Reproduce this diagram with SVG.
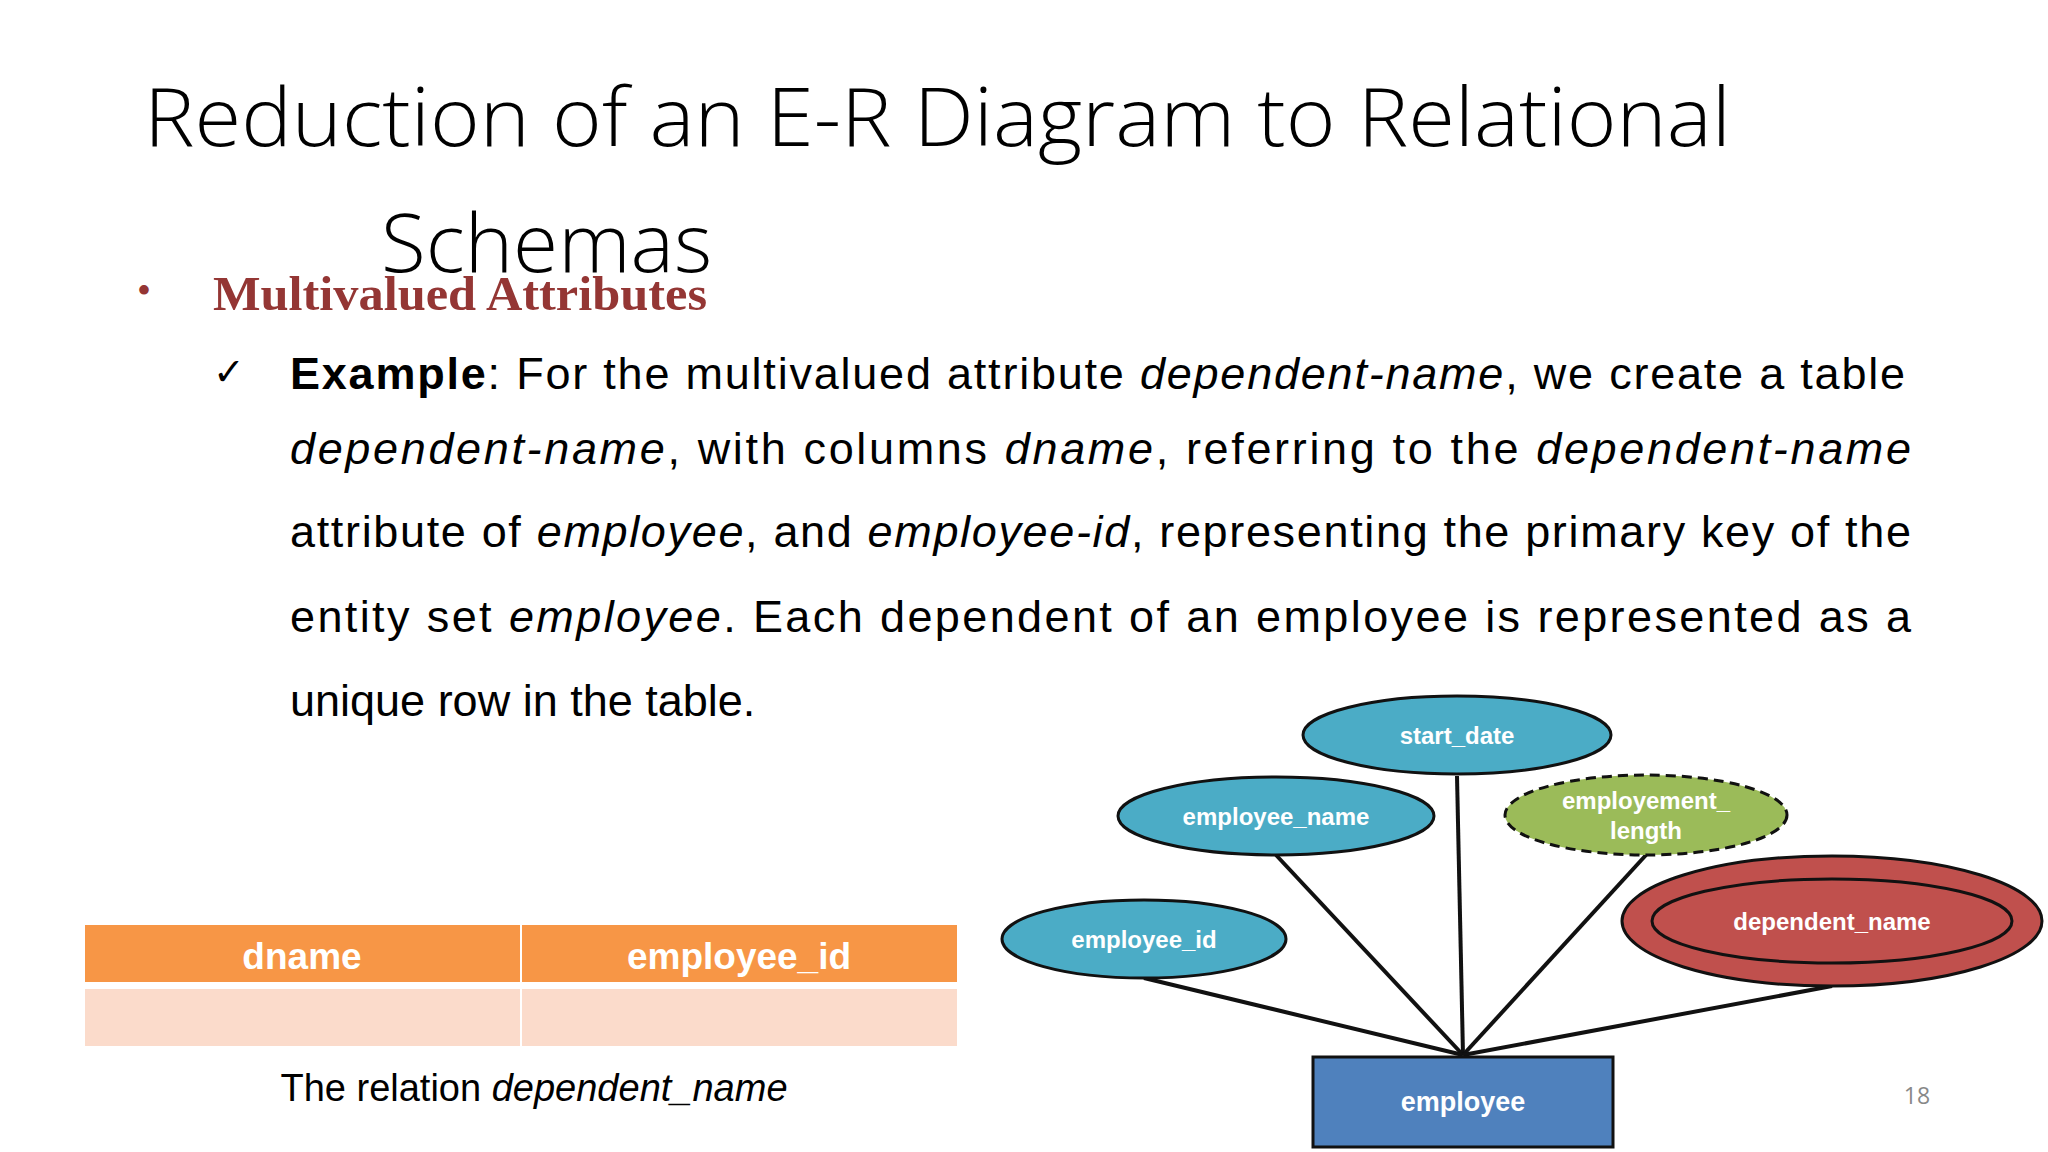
<svg xmlns="http://www.w3.org/2000/svg" width="2048" height="1152" viewBox="0 0 2048 1152">
<style>
.t{font-family:"Open Sans","Liberation Sans",sans-serif;font-weight:300;font-size:82px;fill:#000}
.p{font-family:"Liberation Sans",Arial,sans-serif;font-size:45px;fill:#000}
.i{font-style:italic}
.e{stroke:#111;stroke-width:3}
.l{font-family:"Liberation Sans",Arial,sans-serif;font-weight:bold;font-size:24px;fill:#fff;text-anchor:middle}
.h{font-family:"Liberation Sans",Arial,sans-serif;font-weight:bold;font-size:37px;fill:#fff;text-anchor:middle}
</style>
<rect width="2048" height="1152" fill="#fff"/>
<text class="t" x="144" y="146" textLength="1587" lengthAdjust="spacingAndGlyphs">Reduction of an E-R Diagram to  Relational</text>
<text class="t" x="381" y="272">Schemas</text>
<text x="137" y="304" font-family="Liberation Serif,serif" font-size="40" fill="#943634">•</text>
<text x="213" y="310" font-family="Liberation Serif,serif" font-weight="bold" font-size="49" fill="#943634" textLength="494" lengthAdjust="spacingAndGlyphs">Multivalued Attributes</text>
<text x="213" y="385" font-family="DejaVu Sans,sans-serif" font-size="38">✓</text>
<text class="p" x="290" y="389" textLength="1615" lengthAdjust="spacing"><tspan font-weight="bold">Example</tspan>: For the multivalued attribute <tspan class="i">dependent-name</tspan>, we create a table</text>
<text class="p" x="290" y="464" textLength="1621" lengthAdjust="spacing"><tspan class="i">dependent-name</tspan>, with columns <tspan class="i">dname</tspan>, referring to the <tspan class="i">dependent-name</tspan></text>
<text class="p" x="290" y="547" textLength="1621" lengthAdjust="spacing">attribute of <tspan class="i">employee</tspan>, and <tspan class="i">employee-id</tspan>, representing the primary key of the</text>
<text class="p" x="290" y="632" textLength="1621" lengthAdjust="spacing">entity set <tspan class="i">employee</tspan>. Each dependent of an employee is represented as a</text>
<text class="p" x="290" y="716">unique row in the table.</text>
<g id="table">
<rect x="85" y="925" width="435" height="57" fill="#F79646"/>
<rect x="522" y="925" width="435" height="57" fill="#F79646"/>
<rect x="85" y="989" width="435" height="57" fill="#FBDBCB"/>
<rect x="522" y="989" width="435" height="57" fill="#FBDBCB"/>
<text class="h" x="302" y="969">dname</text>
<text class="h" x="739" y="969">employee_id</text>
</g>
<text class="p" x="534" y="1101" text-anchor="middle" style="font-size:38px">The relation <tspan class="i">dependent_name</tspan></text>
<g id="connectors" stroke="#111" stroke-width="4">
<line x1="1457" y1="776" x2="1463" y2="1055"/>
<line x1="1276" y1="855" x2="1463" y2="1055"/>
<line x1="1646" y1="855" x2="1463" y2="1055"/>
<line x1="1144" y1="978" x2="1463" y2="1055"/>
<line x1="1832" y1="986" x2="1463" y2="1055"/>
</g>
<g id="start_date"><ellipse class="e" cx="1457" cy="735" rx="154" ry="39" fill="#4BACC6"/><text class="l" x="1457" y="744">start_date</text></g>
<g id="employee_name"><ellipse class="e" cx="1276" cy="816" rx="158" ry="39" fill="#4BACC6"/><text class="l" x="1276" y="825">employee_name</text></g>
<g id="employement_length"><ellipse class="e" cx="1646" cy="815" rx="141" ry="40" fill="#9BBB59" stroke-dasharray="10,6"/><text class="l" x="1646" y="809">employement_</text><text class="l" x="1646" y="839">length</text></g>
<g id="employee_id"><ellipse class="e" cx="1144" cy="939" rx="142" ry="39" fill="#4BACC6"/><text class="l" x="1144" y="948">employee_id</text></g>
<g id="dependent_name"><ellipse class="e" cx="1832" cy="921" rx="210" ry="65" fill="#C0504D"/><ellipse class="e" cx="1832" cy="921" rx="180" ry="42" fill="none"/><text class="l" x="1832" y="930">dependent_name</text></g>
<g id="employee"><rect x="1313" y="1057" width="300" height="90" fill="#4F81BD" stroke="#111" stroke-width="3"/><text class="l" x="1463" y="1111" style="font-size:27px">employee</text></g>
<text x="1917" y="1104" font-family="Open Sans,sans-serif" font-size="23" fill="#888" text-anchor="middle">18</text>
</svg>
